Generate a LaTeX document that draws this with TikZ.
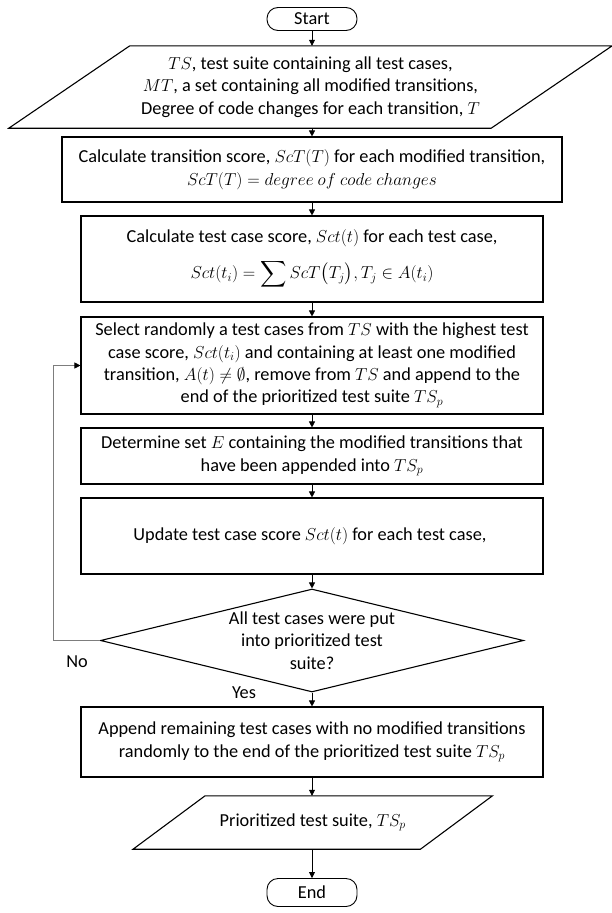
\documentclass[tikz,border=0pt]{standalone}
\usepackage{amsmath}
\usepackage{amssymb}
\usepackage{fontspec}
\setmainfont{Carlito}
\usetikzlibrary{arrows.meta,shapes.geometric}
\definecolor{loopgray}{RGB}{125,125,125}
\tikzstyle{term} = [draw, rectangle, rounded corners=11pt, minimum width=90pt, inner sep=0pt, line width=0.9pt]
\tikzstyle{proc} = [draw, rectangle, align=center, inner sep=0pt, line width=1.1pt]
\tikzstyle{io} = [rectangle, align=center, inner sep=0pt]
\tikzstyle{dec} = [draw, diamond, aspect=4.1, align=center, inner sep=-3pt, line width=1.1pt]
\tikzstyle{arr} = [-{Triangle[length=6pt,width=6pt]}, line width=0.7pt]
\tikzstyle{looparr} = [-{Triangle[length=6pt,width=6pt,color=black]}, line width=0.7pt, loopgray]
\newcommand{\tsp}{$TS_p$}
% slanted outline round an io node: name, half slant
\newcommand{\ioshape}[2]{\draw[line width=1.1pt] ([xshift=-#2]#1.south west) -- ([xshift=#2]#1.north west) -- ([xshift=#2]#1.north east) -- ([xshift=-#2]#1.south east) -- cycle;}

\begin{document}
\begin{tikzpicture}[x=1pt, y=-1pt, font=\fontsize{18.3}{22.4}\selectfont]
	\useasboundingbox (0,0) rectangle (611,913);
	
	\node [term, minimum height=23pt] (start) at (312,19) {Start};
	\node [io, minimum width=482pt, minimum height=82pt] (input) at (310.5,87) {%
		$TS$, test suite containing all test cases,\\
		$MT$, a set containing all modified transitions,\\
		Degree of code changes for each transition, $T$
	};
	\ioshape{input}{60.5pt}
	\node [proc, minimum width=500pt, minimum height=65pt] (calctrans) at (312,169.5) {%
		Calculate transition score, $ScT(T)$ for each modified transition,\\
		$ScT(T) = degree\ of\ code\ changes$
	};
	\node [proc, minimum width=462pt, minimum height=86pt] (calccase) at (312,259) {%
		Calculate test case score, $Sct(t)$ for each test case,\\[12pt]
		$Sct(t_i) = \displaystyle\sum ScT\big(T_j\big), T_j \in A(t_i)$
	};
	\node [proc, minimum width=462pt, minimum height=97pt] (select) at (312,365.5) {%
		Select randomly a test cases from $TS$ with the highest test\\
		case score, $Sct(t_i)$ and containing at least one modified\\
		transition, $A(t) \neq \emptyset$, remove from $TS$ and append to the\\
		end of the prioritized test suite \tsp
	};
	\node [proc, minimum width=462pt, minimum height=56pt] (determine) at (312,456) {%
		Determine set $E$ containing the modified transitions that\\
		have been appended into \tsp
	};
	\node [proc, minimum width=462pt, minimum height=76pt] (update) at (312,536) {%
		Update test case score $Sct(t)$ for each test case,
	};
	\node [dec, minimum width=423pt, minimum height=103pt] (decision) at (312,640.5) {%
		All test cases were put\\
		into prioritized test\\
		suite?
	};
	\node [proc, minimum width=462pt, minimum height=70pt] (append) at (312,742) {%
		Append remaining test cases with no modified transitions\\
		randomly to the end of the prioritized test suite \tsp
	};
	\node [io, minimum width=287pt, minimum height=53pt] (output) at (312.75,822.5) {%
		Prioritized test suite, \tsp
	};
	\ioshape{output}{36pt}
	\node [term, minimum height=28pt] (end) at (312,892.5) {End};
	
	\node (no) at (77,662) {No};
	\node (yes) at (244,693) {Yes};
	
	\draw [arr] (start) -- (start |- input.north);
	\draw [arr] (start |- input.south) -- (calctrans);
	\draw [arr] (calctrans) -- (calccase);
	\draw [arr] (calccase) -- (select);
	\draw [arr] (select) -- (determine);
	\draw [arr] (determine) -- (update);
	\draw [arr] (update) -- (decision);
	\draw [arr] (decision) -- (append);
	\draw [arr] (append) -- (append |- output.north);
	\draw [arr] (append |- output.south) -- (end);
	\draw [looparr] (decision.west) -- ++(-47,0) |- (select.west);
\end{tikzpicture}
\end{document}
